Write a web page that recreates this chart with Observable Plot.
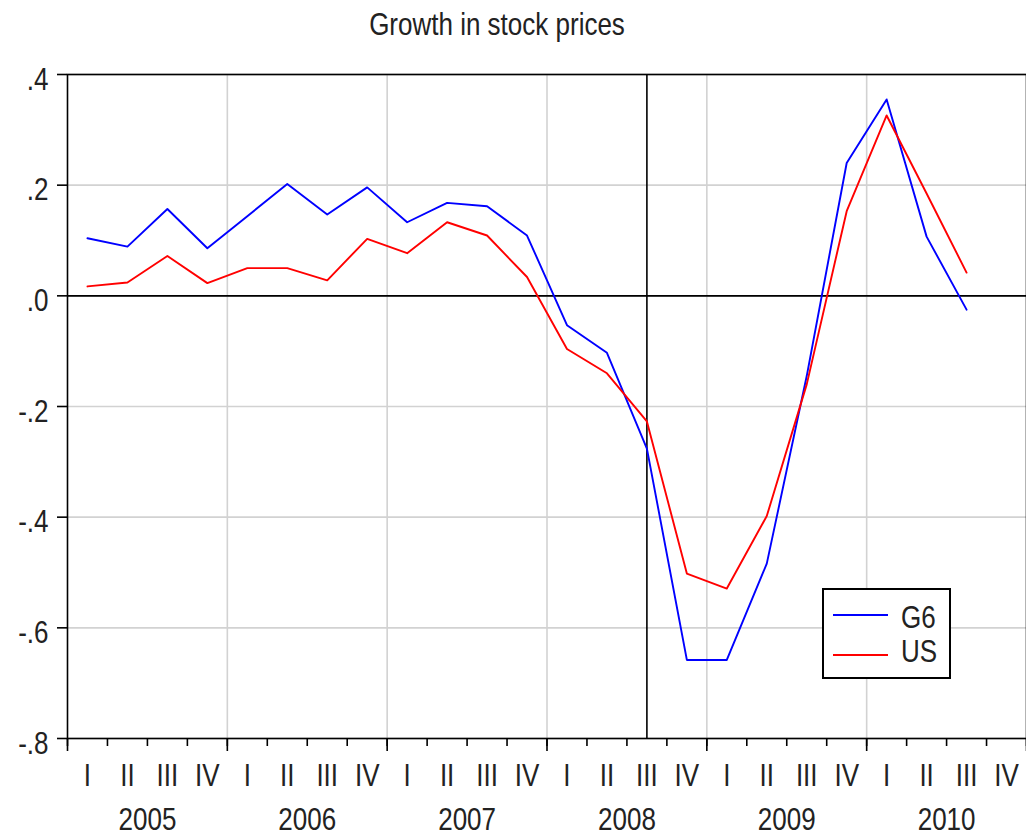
<!DOCTYPE html>
<html>
<head>
<meta charset="utf-8">
<script src="https://cdn.jsdelivr.net/npm/d3@7"></script>
<script src="https://cdn.jsdelivr.net/npm/@observablehq/plot@0.6"></script>
<style>
  body { margin: 0; background: #fff; font-family: "Liberation Sans", Arial, sans-serif; color: #222; }
  #wrap { position: relative; width: 1026px; height: 836px; overflow: hidden; background: #fff; }
  #title { position: relative; height: 48px; }
  .stretch { position: absolute; font-size: 26px; line-height: 26px; white-space: nowrap; color: #222; }
  #title .stretch { left: 497px; top: 13px; transform-origin: 50% 22px; transform: translateX(-50%) scaleY(1.22); }
  #legend { position: absolute; left: 822px; top: 588px; width: 129px; height: 91px; box-sizing: border-box; border: 2px solid #000; background: #fff; }
  .lg-line { position: absolute; width: 55px; height: 2px; }
  .lg-text { transform-origin: 0 22px; transform: scaleY(1.22); }
</style>
</head>
<body>
<div id="wrap">
  <div id="title"><span class="stretch">Growth in stock prices</span></div>
  <div id="chart"></div>
  <div id="legend"></div>
</div>
<script>
// ---- data ----
const quarterNames = ["I", "II", "III", "IV"];
const years = [2005, 2006, 2007, 2008, 2009, 2010];
const periods = [
  "2005Q1","2005Q2","2005Q3","2005Q4",
  "2006Q1","2006Q2","2006Q3","2006Q4",
  "2007Q1","2007Q2","2007Q3","2007Q4",
  "2008Q1","2008Q2","2008Q3","2008Q4",
  "2009Q1","2009Q2","2009Q3","2009Q4",
  "2010Q1","2010Q2","2010Q3"
];
const g6 = [0.104, 0.089, 0.157, 0.086, 0.144, 0.202, 0.147, 0.196,
            0.133, 0.168, 0.162, 0.109, -0.053, -0.103, -0.276, -0.658,
            -0.658, -0.484, -0.145, 0.240, 0.355, 0.107, -0.025];
const us = [0.017, 0.024, 0.072, 0.023, 0.050, 0.050, 0.028, 0.103,
            0.077, 0.133, 0.109, 0.034, -0.096, -0.140, -0.227, -0.502,
            -0.529, -0.398, -0.160, 0.153, 0.326, 0.185, 0.042];
const yTicks = [0.4, 0.2, 0, -0.2, -0.4, -0.6, -0.8];
const eventPeriod = "2008Q3";
const seriesNames = ["G6", "US"];
const seriesColors = ["#0000ff", "#ff0000"];

// ---- derived ----
const firstYear = years[0];
const nQ = years.length * 4;
function periodPos(p) {
  const y = +p.slice(0, 4), q = +p.slice(5);
  return (y - firstYear) * 4 + (q - 1) + 0.5;
}
const rows = periods.map((p, i) => ({t: periodPos(p), g6: g6[i], us: us[i]}));
const quarterBounds = d3.range(0, nQ + 1);
const yearBounds = years.map((y, i) => i * 4).concat([nQ]);
const innerYearBounds = yearBounds.slice(1, -1);
const quarterCenters = d3.range(0, nQ).map(i => i + 0.5);
const yearCenters = years.map((y, i) => i * 4 + 2);
const yFmt = d => d3.format(".1f")(d).replace("\u2212", "-").replace("0.", ".");

const chart = Plot.plot({
  width: 1026,
  height: 788,
  marginLeft: 67,
  marginRight: 0,
  marginTop: 26,
  marginBottom: 98,
  style: {fontFamily: "'Liberation Sans', Arial, sans-serif", background: "#fff", color: "#222", overflow: "visible"},
  x: {domain: [0, nQ], axis: null, label: null},
  y: {domain: [-0.8, 0.4], axis: null, label: null},
  marks: [
    Plot.gridY(yTicks, {stroke: "#d2d2d2", strokeOpacity: 1, strokeWidth: 1.6}),
    Plot.gridX(innerYearBounds, {stroke: "#d2d2d2", strokeOpacity: 1, strokeWidth: 1.6}),
    Plot.ruleY([0], {stroke: "#000", strokeWidth: 1.6}),
    Plot.ruleX([periodPos(eventPeriod)], {stroke: "#000", strokeWidth: 1.6}),
    Plot.line(rows, {x: "t", y: "g6", stroke: seriesColors[0], strokeWidth: 1.9}),
    Plot.line(rows, {x: "t", y: "us", stroke: seriesColors[1], strokeWidth: 1.9}),
    Plot.frame({stroke: "#000", strokeWidth: 1.6}),
    Plot.axisY({ticks: yTicks, tickSize: 10, tickFormat: () => "", label: null, stroke: "#000", strokeWidth: 1.6}),
    Plot.axisX({ticks: quarterBounds, tickSize: 8, tickFormat: () => "", label: null, stroke: "#000", strokeWidth: 1.6}),
    Plot.axisX({ticks: yearBounds, tickSize: 13, tickFormat: () => "", label: null, stroke: "#000", strokeWidth: 1.6}),
    Plot.text(yTicks, {y: d => d, frameAnchor: "left", dx: -19, dy: 5, textAnchor: "end", lineAnchor: "middle", text: yFmt, fontSize: 26, fill: "#222"}),
    Plot.text(quarterCenters, {x: d => d, frameAnchor: "bottom", dy: 25, lineAnchor: "top", text: d => quarterNames[Math.floor(d) % 4], fontSize: 26, fill: "#222"}),
    Plot.text(yearCenters, {x: d => d, frameAnchor: "bottom", dy: 69, lineAnchor: "top", text: (d, i) => String(years[i]), fontSize: 26, fill: "#222"})
  ]
});

// stretch text vertically like the reference glyphs
d3.select(chart).selectAll("text").each(function() {
  const t = this.getAttribute("transform");
  if (t) this.setAttribute("transform", t + " scale(1,1.22)");
});
document.getElementById("chart").appendChild(chart);

// legend
const legend = document.getElementById("legend");
seriesNames.forEach((name, i) => {
  const line = document.createElement("div");
  line.className = "lg-line";
  line.style.left = "9px";
  line.style.top = (24 + i * 40) + "px";
  line.style.background = seriesColors[i];
  legend.appendChild(line);
  const txt = document.createElement("span");
  txt.className = "stretch lg-text";
  txt.style.left = "77px";
  txt.style.top = (16 + i * 34) + "px";
  txt.textContent = name;
  legend.appendChild(txt);
});
</script>
</body>
</html>
